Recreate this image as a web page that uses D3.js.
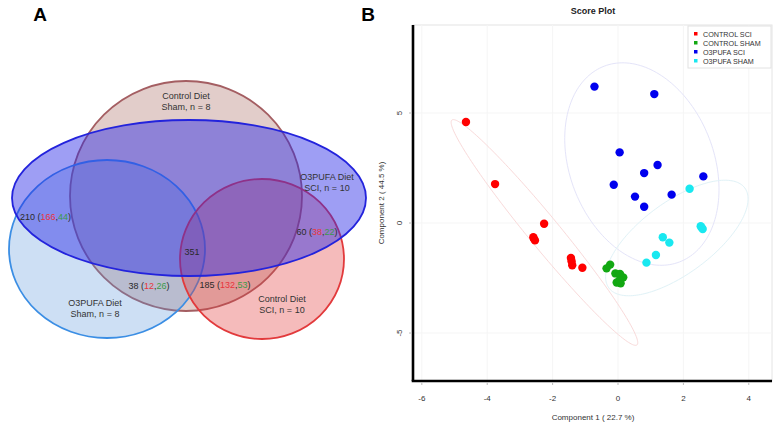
<!DOCTYPE html>
<html>
<head>
<meta charset="utf-8">
<script src="https://cdn.jsdelivr.net/npm/d3@7"></script>
<style>
body { margin: 0; background: #fff; }
svg { display: block; font-family: "Liberation Sans", Arial, sans-serif; }
</style>
</head>
<body>
<div class="chart"></div>
<script>
// ---- panel A data (venn) ----
const setLabels = [
	["Control Diet", "Sham, n = 8"],
	["O3PUFA Diet", "SCI, n = 10"],
	["O3PUFA Diet", "Sham, n = 8"],
	["Control Diet", "SCI, n = 10"]
];
const regionTotals = [210, 60, 351, 38, 185];
const regionUp = [166, 38, null, 12, 132];
const regionDown = [44, 22, null, 26, 53];

// ---- panel B data (score plot) ----
const groups = ["CONTROL SCI", "CONTROL SHAM", "O3PUFA SCI", "O3PUFA SHAM"];
const controlSci = [[-4.65, 4.59], [-3.76, 1.77], [-2.26, -0.03], [-2.59, -0.65], [-2.54, -0.79],
	[-2.57, -0.72], [-1.44, -1.59], [-1.42, -1.74], [-1.40, -1.92], [-1.09, -2.03]];
const controlSham = [[-0.24, -1.89], [-0.35, -2.06], [-0.08, -2.29], [0.06, -2.32], [0.16, -2.47],
	[-0.04, -2.70], [0.08, -2.74], [0.05, -2.60]];
const o3Sci = [[-0.72, 6.2], [1.11, 5.86], [0.05, 3.21], [1.21, 2.64], [0.80, 2.27],
	[2.61, 2.12], [-0.13, 1.74], [1.64, 1.29], [0.52, 1.20], [0.80, 0.74]];
const o3Sham = [[2.19, 1.56], [2.53, -0.15], [2.59, -0.27], [1.37, -0.65], [1.57, -0.89],
	[1.16, -1.45], [0.87, -1.80], [2.56, -0.21]];
// confidence ellipses: centre, semi-axis vectors (data units)
const ellCenters = [[-2.25, -0.43], [0.73, 2.68], [1.80, -0.68]];
const ellMajor = [[-2.83, 5.11], [1.15, -4.45], [2.08, 2.27]];
const ellMinor = [[0.37, 0.45], [2.06, 1.17], [0.65, -1.32]];
const xTicks = [-6, -4, -2, 0, 2, 4];
const yTicks = [-5, 0, 5];

const width = 779, height = 428;
const svg = d3.select(".chart").append("svg")
	.attr("width", width).attr("height", height);

// panel letters
svg.append("text").attr("x", 40).attr("y", 21).attr("text-anchor", "middle")
	.attr("font-size", 19).attr("font-weight", "bold").text("A");
svg.append("text").attr("x", 368).attr("y", 21).attr("text-anchor", "middle")
	.attr("font-size", 19).attr("font-weight", "bold").text("B");

// ---------- panel A ----------
let shapes = [
	{cx: 186, cy: 196, rx: 116, ry: 115, fill: "rgba(160,90,80,0.3)", stroke: "#a45e62", lx: 186, ly: 99},
	{cx: 189, cy: 198, rx: 177, ry: 78, fill: "rgba(40,40,230,0.45)", stroke: "#2323dc", lx: 327, ly: 180},
	{cx: 107, cy: 249, rx: 98, ry: 89, fill: "rgba(90,150,220,0.3)", stroke: "#3b8ee4", lx: 95, ly: 306},
	{cx: 262, cy: 259, rx: 82, ry: 80, fill: "rgba(225,60,60,0.35)", stroke: "#e23a3c", lx: 282, ly: 302}
];
let drawOrder = [0, 2, 3, 1];
let venn = svg.append("g");
venn.selectAll("ellipse")
	.data(drawOrder.map(i => shapes[i]))
	.enter().append("ellipse")
	.attr("cx", d => d.cx).attr("cy", d => d.cy)
	.attr("rx", d => d.rx).attr("ry", d => d.ry)
	.attr("fill", d => d.fill)
	.attr("stroke", d => d.stroke)
	.attr("stroke-width", 1.8);

setLabels.forEach((lab, i) => {
	let t = venn.append("text").attr("text-anchor", "middle")
		.attr("font-size", 9).attr("fill", "#333");
	lab.forEach((line, j) => {
		t.append("tspan").attr("x", shapes[i].lx).attr("y", shapes[i].ly + j * 10.5).text(line);
	});
});

let regionPos = [
	{x: 20, y: 220, anchor: "start"},
	{x: 317, y: 235, anchor: "middle"},
	{x: 192, y: 255, anchor: "middle"},
	{x: 149, y: 289, anchor: "middle"},
	{x: 225, y: 288, anchor: "middle"}
];
regionTotals.forEach((tot, i) => {
	let t = venn.append("text")
		.attr("x", regionPos[i].x).attr("y", regionPos[i].y)
		.attr("text-anchor", regionPos[i].anchor)
		.attr("font-size", 9).attr("fill", "#2a2a2a");
	if (regionUp[i] == null) {
		t.text(tot);
		return;
	}
	t.append("tspan").text(tot + " (");
	t.append("tspan").attr("fill", "#e8343c").text(regionUp[i]);
	t.append("tspan").text(",");
	t.append("tspan").attr("fill", "#3b9a48").text(regionDown[i]);
	t.append("tspan").text(")");
});

// ---------- panel B ----------
let pLeft = 413, pRight = 772, pTop = 25, pBottom = 381;
let x = d3.scaleLinear().domain([-6.27, 4.71]).range([pLeft, pRight]);
let y = d3.scaleLinear().domain([-7.18, 9.0]).range([pBottom, pTop]);
let plot = svg.append("g");

plot.append("rect").attr("x", pLeft).attr("y", pTop)
	.attr("width", pRight - pLeft).attr("height", pBottom - pTop)
	.attr("fill", "none").attr("stroke", "#e4e4e4").attr("stroke-width", 1);

plot.selectAll(".gx").data(xTicks).enter().append("line")
	.attr("x1", d => x(d)).attr("x2", d => x(d))
	.attr("y1", pTop).attr("y2", pBottom)
	.attr("stroke", "#f5f5f5");
plot.selectAll(".gy").data(yTicks).enter().append("line")
	.attr("y1", d => y(d)).attr("y2", d => y(d))
	.attr("x1", pLeft).attr("x2", pRight)
	.attr("stroke", "#f5f5f5");

// ellipses
let ellColors = ["#f9dada", "#e4e4f9", "#e0f2f7"];
ellCenters.forEach((c, i) => {
	let pts = d3.range(0, 2 * Math.PI + 0.01, Math.PI / 90).map(t => [
		x(c[0] + ellMajor[i][0] * Math.cos(t) + ellMinor[i][0] * Math.sin(t)),
		y(c[1] + ellMajor[i][1] * Math.cos(t) + ellMinor[i][1] * Math.sin(t))
	]);
	plot.append("path").attr("d", d3.line()(pts))
		.attr("fill", "none").attr("stroke", ellColors[i]).attr("stroke-width", 1);
});

let series = [controlSci, controlSham, o3Sci, o3Sham];
let colors = ["#ff0000", "#12a812", "#0000ee", "#19e8f0"];
series.forEach((pts, i) => {
	plot.selectAll(".pt" + i).data(pts).enter().append("circle")
		.attr("cx", d => x(d[0])).attr("cy", d => y(d[1]))
		.attr("r", 4.2).attr("fill", colors[i]);
});

// axes
plot.append("line").attr("x1", pLeft).attr("x2", pLeft).attr("y1", pTop).attr("y2", pBottom)
	.attr("stroke", "#000").attr("stroke-width", 2.6);
plot.append("line").attr("x1", pLeft - 1.3).attr("x2", pRight).attr("y1", pBottom).attr("y2", pBottom)
	.attr("stroke", "#000").attr("stroke-width", 2.6);

plot.selectAll(".xt").data(xTicks).enter().append("line")
	.attr("x1", d => x(d)).attr("x2", d => x(d))
	.attr("y1", pBottom + 1).attr("y2", pBottom + 4).attr("stroke", "#bbb");
plot.selectAll(".xl").data(xTicks).enter().append("text")
	.attr("x", d => x(d)).attr("y", 401).attr("text-anchor", "middle")
	.attr("font-size", 8).attr("fill", "#333").text(d => d);
plot.selectAll(".yt").data(yTicks).enter().append("line")
	.attr("x1", pLeft - 4).attr("x2", pLeft - 1)
	.attr("y1", d => y(d)).attr("y2", d => y(d)).attr("stroke", "#bbb");
plot.selectAll(".yl").data(yTicks).enter().append("text")
	.attr("transform", d => "translate(402," + y(d) + ") rotate(-90)")
	.attr("text-anchor", "middle")
	.attr("font-size", 8).attr("fill", "#333").text(d => d);

plot.append("text").attr("x", 593).attr("y", 420).attr("text-anchor", "middle")
	.attr("font-size", 8).attr("fill", "#333").text("Component 1 ( 22.7 %)");
plot.append("text").attr("transform", "translate(384,203) rotate(-90)")
	.attr("text-anchor", "middle")
	.attr("font-size", 8).attr("fill", "#333").text("Component 2 ( 44.5 %)");
plot.append("text").attr("x", 593).attr("y", 14).attr("text-anchor", "middle")
	.attr("font-size", 9).attr("font-weight", "bold").attr("fill", "#222").text("Score Plot");

// legend
let legend = plot.append("g");
legend.append("rect").attr("x", 688).attr("y", 26).attr("width", 83).attr("height", 42)
	.attr("fill", "#fff").attr("stroke", "#e2e2e2");
groups.forEach((g, i) => {
	legend.append("rect").attr("x", 694).attr("y", 32 + i * 9)
		.attr("width", 3.5).attr("height", 3.5).attr("fill", colors[i]);
	legend.append("text").attr("x", 703).attr("y", 36.5 + i * 9)
		.attr("font-size", 7.2).attr("fill", "#333").text(g);
});
</script>
</body>
</html>
